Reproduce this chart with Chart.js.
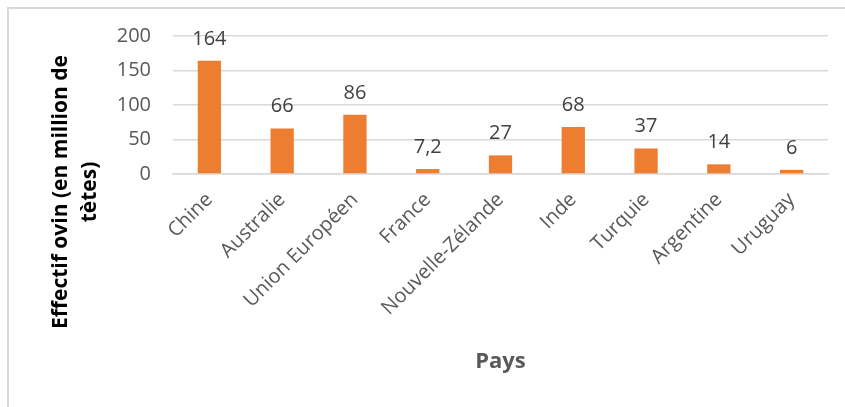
<!DOCTYPE html>
<html>
<head>
<meta charset="utf-8">
<script src="https://cdn.jsdelivr.net/npm/chart.js@4.4.1/dist/chart.umd.min.js"></script>
<style>
  html, body { margin: 0; padding: 0; background: #fff; overflow: hidden; }
  #cadre {
    position: absolute; left: 7px; top: 7px;
    width: 845px; height: 407px;
    border: 2px solid #d9d9d9;
  }
  #graphique { position: absolute; left: 0; top: 0; }
</style>
</head>
<body>
<div id="cadre"></div>
<canvas id="graphique" width="845" height="407"></canvas>
<script>
// Effectif ovin par pays (en millions de têtes)
var pays = ['Chine', 'Australie', 'Union Européen', 'France', 'Nouvelle-Zélande', 'Inde', 'Turquie', 'Argentine', 'Uruguay'];
var effectifs = [164, 66, 86, 7.2, 27, 68, 37, 14, 6];
var graduations = [0, 50, 100, 150, 200];
var titreY = ['Effectif ovin (en million de', 'tètes)'];
var titreX = 'Pays';

Chart.defaults.font.family = "'Open Sans', sans-serif";

// Valeurs écrites au-dessus de chaque barre
var etiquettesValeurs = {
    id: 'etiquettesValeurs',
    afterDatasetsDraw: function (chart) {
        var ctx = chart.ctx;
        var meta = chart.getDatasetMeta(0);
        ctx.save();
        ctx.font = '20px "Open Sans", sans-serif';
        ctx.fillStyle = '#404040';
        ctx.textAlign = 'center';
        ctx.textBaseline = 'alphabetic';
        meta.data.forEach(function (barre, i) {
            var texte = String(effectifs[i]).replace('.', ',');
            ctx.fillText(texte, barre.x, barre.y - 16);
        });
        ctx.restore();
    }
};

// Titre vertical sur deux lignes, centré sur la hauteur du graphique
var titreVertical = {
    id: 'titreVertical',
    afterDraw: function (chart) {
        var ctx = chart.ctx;
        ctx.save();
        ctx.font = 'bold 21px "Open Sans", sans-serif';
        ctx.fillStyle = '#000';
        ctx.textAlign = 'center';
        ctx.textBaseline = 'alphabetic';
        ctx.translate(67, 192);
        ctx.rotate(-Math.PI / 2);
        titreY.forEach(function (ligne, i) {
            ctx.fillText(ligne, 0, i * 29);
        });
        ctx.restore();
    }
};

var ctx = document.getElementById('graphique');
new Chart(ctx, {
    type: 'bar',
    data: {
        labels: pays,
        datasets: [{
            data: effectifs,
            backgroundColor: '#ed7d31',
            borderWidth: 0,
            categoryPercentage: 1,
            barPercentage: 0.32
        }]
    },
    options: {
        responsive: false,
        animation: false,
        layout: { padding: { top: 36, right: 17, left: 0, bottom: 0 } },
        plugins: {
            legend: { display: false },
            tooltip: { enabled: false }
        },
        scales: {
            y: {
                min: 0,
                max: 200,
                afterFit: function (scale) { scale.width = 173; },
                afterBuildTicks: function (scale) {
                    scale.ticks = graduations.map(function (v) { return { value: v }; });
                },
                ticks: {
                    padding: 22,
                    color: '#595959',
                    font: { size: 20 }
                },
                grid: { color: '#d9d9d9', lineWidth: 1.4, drawTicks: false },
                border: { display: false }
            },
            x: {
                afterFit: function (scale) { scale.height = 233; },
                ticks: {
                    minRotation: 45,
                    maxRotation: 45,
                    padding: 14,
                    autoSkip: false,
                    color: '#595959',
                    font: { size: 20 }
                },
                grid: { display: false, drawTicks: false },
                border: { display: true, color: '#d9d9d9', width: 1.5 },
                title: {
                    display: true,
                    text: titreX,
                    color: '#595959',
                    font: { size: 22, weight: 'bold' },
                    padding: { top: 0, bottom: 32 }
                }
            }
        }
    },
    plugins: [etiquettesValeurs, titreVertical]
});
</script>
</body>
</html>
